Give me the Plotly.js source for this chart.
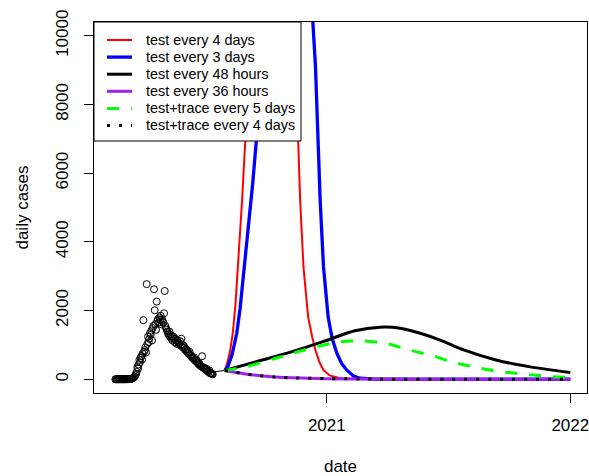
<!DOCTYPE html>
<html>
<head>
<meta charset="utf-8">
<script src="https://cdn.plot.ly/plotly-3.0.1.min.js"></script>
<style>html,body{margin:0;padding:0;background:#fff;}#chart{width:589px;height:476px;}</style>
</head>
<body>
<div id="chart"></div>
<script>
// ---- observed daily cases (one value per day from obsStart) ----
var obsStart = '2020-02-19';
var obsValues = [
  0,0,0,0,0,0,0,0,0,0,0,
  0,0,0,1,0,2,1, 3,2,5,8,6,12,15, 20,30,45,60,80,115,155, 215,350,310,430,560,495,620, 670,575,740,
  1720,800,845,930,780,2770,1030, 1240,1080,1180,1340,1290,1420,1130, 1490,1550,2620,2010,1600,1440,2260, 1700,1750,1650,1800,1730,1850,1600, 1750,1700,
  1650,1920,2570,1550,1490,1440,1390, 1340,1290,1390,1240,1290,1180,1240, 1130,1240,1180,1080,1180,1130,1030, 1130,1080,1010,1030,1110,980,1180, 1010,930,980,
  905,930,845,875,805,825,780, 740,805,720,700,670,640,620, 600,640,555,575,515,535,495, 465,430,455,410,390,370,670, 350,330,
  340,310,290,270,300,245,225,205,255,175,185,165,155,145
];

// ---- fitted tail ----
var fitDates = ['2020-07-10','2020-07-20','2020-08-01'];
var fitValues = [205, 225, 255];

// ---- scenarios ----
var redDates = ['2020-08-01','2020-08-05','2020-08-09','2020-08-13','2020-08-17','2020-08-21','2020-08-24','2020-08-27','2020-08-31','2020-09-08','2020-09-18','2020-09-30','2020-10-12','2020-10-25','2020-11-05','2020-11-13','2020-11-19','2020-11-22','2020-11-27','2020-12-04','2020-12-10','2020-12-15','2020-12-21','2020-12-27','2021-01-05','2021-01-21','2021-02-15','2021-04-01','2022-01-01'];
var redValues = [255,490,820,1340,2160,3270,4220,5220,6690,9300,12400,14900,16000,14900,12400,9800,6970,5220,3270,1810,1240,845,495,263,113,29,5,1,0];

var blueDates = ['2020-08-01','2020-08-06','2020-08-12','2020-08-19','2020-08-24','2020-08-28','2020-09-01','2020-09-05','2020-09-12','2020-09-18','2020-09-28','2020-10-10','2020-10-25','2020-11-10','2020-11-22','2020-11-28','2020-12-04','2020-12-08','2020-12-11','2020-12-15','2020-12-18','2020-12-22','2020-12-27','2021-01-03','2021-01-09','2021-01-16','2021-01-23','2021-01-31','2021-02-10','2021-02-20','2021-03-15','2022-01-01'];
var blueValues = [255,390,720,1340,2060,2800,3500,4265,5720,7100,8900,11800,15500,17500,17500,16500,13900,11800,10420,9100,7180,5220,3270,1810,1185,760,465,263,93,29,4,0];

var blackDates = ['2020-08-01','2020-09-20','2020-11-10','2020-12-29','2021-02-12','2021-03-22','2021-04-21','2021-05-21','2021-06-20','2021-07-25','2021-09-13','2021-11-02','2022-01-01'];
var blackValues = [255,525,805,1115,1410,1515,1485,1340,1140,855,555,360,195];

var purpleDates = ['2020-08-01','2020-08-16','2020-09-01','2020-09-20','2020-10-15','2020-11-10','2020-12-29','2021-03-22','2021-07-01','2022-01-01'];
var purpleValues = [255,205,155,108,67,41,18,5,2,1];

var greenDates = ['2020-08-01','2020-08-31','2020-10-15','2020-12-14','2021-01-18','2021-02-24','2021-04-01','2021-05-06','2021-06-10','2021-07-05','2021-08-09','2021-09-14','2021-10-18','2021-11-27','2022-01-01'];
var greenValues = [255,357,605,935,1080,1120,1040,845,680,515,360,235,160,88,50];

var dotDates = ['2020-08-01','2020-08-16','2020-09-01','2020-09-20','2020-10-15','2020-11-10','2020-12-29','2021-03-22','2021-07-01','2022-01-01'];
var dotValues = [255,205,155,108,67,41,18,5,2,1];

var seriesNames = ['test every 4 days','test every 3 days','test every 48 hours','test every 36 hours','test+trace every 5 days','test+trace every 4 days'];

var xTickVals = ['2021-01-01','2022-01-01'];
var xTickText = ['2021','2022'];
var yTickVals = [0,2000,4000,6000,8000,10000];
var yTickText = ['0','2000','4000','6000','8000','10000'];

// ---- styles ----
var seriesLines = [
  {color: '#ff0000', width: 2},
  {color: '#0000ff', width: 3.3},
  {color: '#000000', width: 3},
  {color: '#a020f0', width: 3},
  {color: '#00ff00', width: 3, dash: '12px,12px'},
  {color: '#000000', width: 3, dash: '3px,9px'}
];

// build observed dates
var obsDates = [];
(function(){
  var d = new Date(obsStart + 'T00:00:00Z');
  for (var i = 0; i < obsValues.length; i++) {
    obsDates.push(d.toISOString().slice(0,10));
    d.setUTCDate(d.getUTCDate() + 1);
  }
})();

var FONT = 'Liberation Sans, Arial, Helvetica, sans-serif';
var W = 589, H = 476, M = {l: 94, r: 2, t: 22, b: 83};
var PW = W - M.l - M.r, PH = H - M.t - M.b;

function ln(i, extra) {
  var o = {color: seriesLines[i].color, width: seriesLines[i].width};
  if (seriesLines[i].dash) o.dash = seriesLines[i].dash;
  if (extra) for (var k in extra) o[k] = extra[k];
  return o;
}

var traces = [
  {x: obsDates, y: obsValues, type: 'scatter', mode: 'markers', showlegend: false, hoverinfo: 'skip',
   marker: {symbol: 'circle-open', size: 7, color: '#000', line: {width: 1, color: '#000'}}},
  {x: fitDates, y: fitValues, type: 'scatter', mode: 'lines', showlegend: false,
   line: {color: '#000', width: 1}},
  {x: redDates, y: redValues, name: seriesNames[0], type: 'scatter', mode: 'lines', showlegend: false, line: ln(0)},
  {x: blueDates, y: blueValues, name: seriesNames[1], type: 'scatter', mode: 'lines', showlegend: false, line: ln(1)},
  {x: blackDates, y: blackValues, name: seriesNames[2], type: 'scatter', mode: 'lines', showlegend: false, line: ln(2, {shape: 'spline', smoothing: 0.8})},
  {x: purpleDates, y: purpleValues, name: seriesNames[3], type: 'scatter', mode: 'lines', showlegend: false, line: ln(3, {shape: 'spline', smoothing: 0.6})},
  {x: greenDates, y: greenValues, name: seriesNames[4], type: 'scatter', mode: 'lines', showlegend: false, line: ln(4, {shape: 'spline', smoothing: 0.8})},
  {x: dotDates, y: dotValues, name: seriesNames[5], type: 'scatter', mode: 'lines', showlegend: false, line: ln(5, {shape: 'spline', smoothing: 0.6})}
];

// ---- legend box (R style), positioned in pixels from the plot's top-left ----
function px(x) { return x / PW; }
function py(y) { return 1 - y / PH; }
var LEG = {w: 207, h: 119, row0: 18, rowH: 17.1, lineX0: 13, lineX1: 38, textX: 50};
var shapes = [{type: 'rect', xref: 'paper', yref: 'paper', x0: px(0), x1: px(LEG.w), y0: py(LEG.h), y1: py(0),
               fillcolor: '#fff', line: {color: '#000', width: 1}, layer: 'above'}];
var annotations = [];
for (var i = 0; i < seriesNames.length; i++) {
  var yc = LEG.row0 + LEG.rowH * i;
  shapes.push({type: 'line', xref: 'paper', yref: 'paper', x0: px(LEG.lineX0), x1: px(LEG.lineX1), y0: py(yc), y1: py(yc),
               line: ln(i), layer: 'above'});
  annotations.push({xref: 'paper', yref: 'paper', x: px(LEG.textX), y: py(yc), xanchor: 'left', yanchor: 'middle',
                    text: seriesNames[i], showarrow: false, font: {family: FONT, size: 14.4, color: '#000'}});
}

var layout = {
  width: W, height: H,
  margin: M,
  paper_bgcolor: '#fff', plot_bgcolor: '#fff',
  font: {family: FONT, color: '#000', size: 17},
  showlegend: false,
  shapes: shapes,
  annotations: annotations,
  xaxis: {type: 'date', range: ['2020-01-18','2022-01-26'], tickmode: 'array', tickvals: xTickVals, ticktext: xTickText,
          ticks: 'outside', ticklen: 9, tickcolor: '#000', tickwidth: 1, showline: true, mirror: true, linecolor: '#000', linewidth: 1,
          showgrid: false, zeroline: false, tickfont: {family: FONT, size: 17, color: '#000'}, ticklabelstandoff: 8,
          ticklabeloverflow: 'allow',
          title: {text: 'date', font: {family: FONT, size: 17, color: '#000'}, standoff: 28}},
  yaxis: {range: [-400, 10400], tickmode: 'array', tickvals: yTickVals, ticktext: yTickText, tickangle: -90,
          ticks: 'outside', ticklen: 9, tickcolor: '#000', tickwidth: 1, showline: true, mirror: true, linecolor: '#000', linewidth: 1,
          showgrid: false, zeroline: false, tickfont: {family: FONT, size: 17, color: '#000'}, ticklabelstandoff: 9,
          ticklabeloverflow: 'allow',
          title: {text: 'daily cases', font: {family: FONT, size: 17, color: '#000'}, standoff: 20}}
};

Plotly.newPlot('chart', traces, layout, {staticPlot: true, displayModeBar: false});
</script>
</body>
</html>
